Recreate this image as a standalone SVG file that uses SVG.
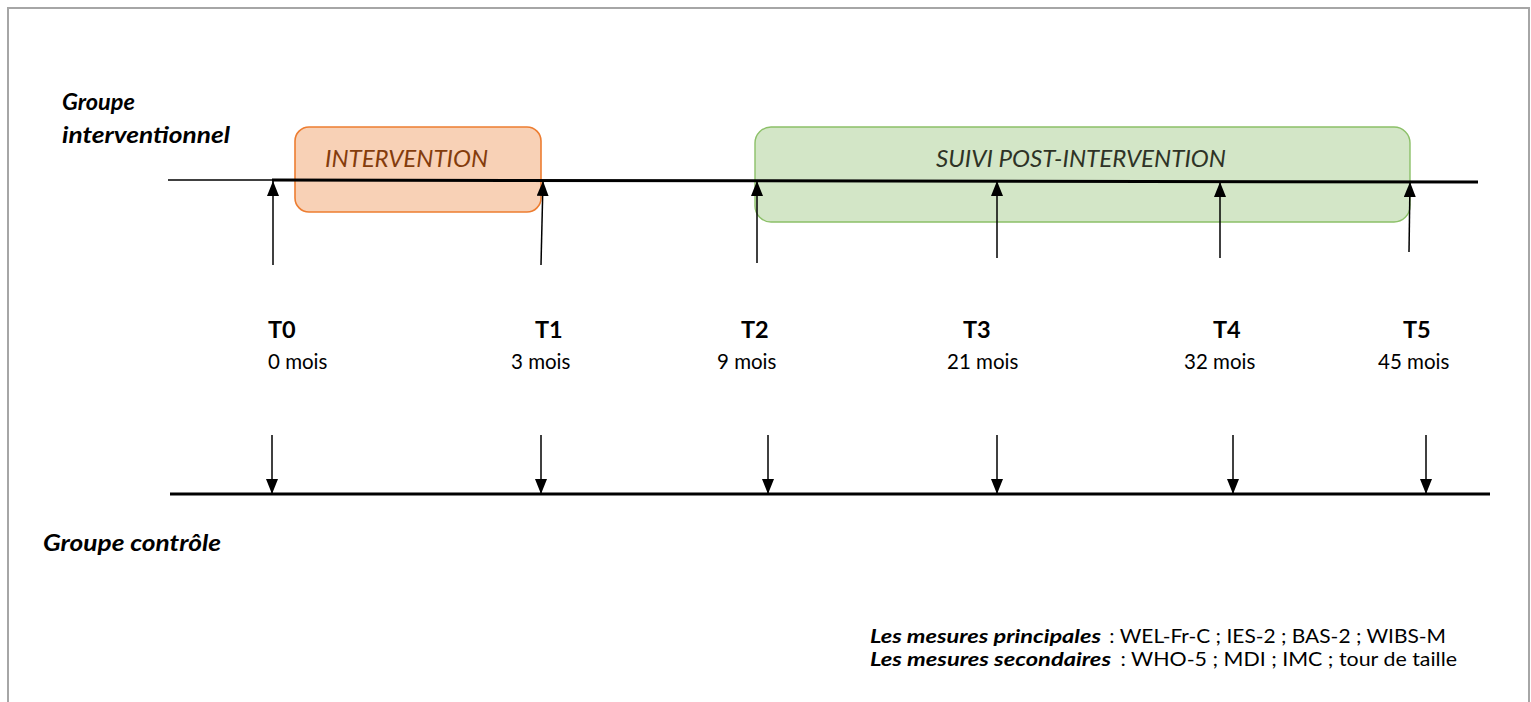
<svg xmlns="http://www.w3.org/2000/svg" width="1531" height="702" viewBox="0 0 1531 702">
<style>
  .f { font-family: Lato, "Noto Sans", "Liberation Sans", sans-serif; }
  .grp { font-size: 23.5px; font-weight: bold; font-style: italic; fill: #000; }
  .box-t { font-size: 23.5px; font-style: italic; }
  .tl { font-size: 23.5px; font-weight: bold; fill: #000; }
  .mo { font-size: 20.5px; fill: #000; }
  .leg-b { font-size: 19px; font-weight: bold; font-style: italic; fill: #000; }
  .leg { font-size: 19px; fill: #000; }
  .arr { stroke: #000; stroke-width: 1.5; fill: none; marker-end: url(#ah); }
  .axis { stroke: #000; fill: none; }
</style>
<defs>
  <marker id="ah" viewBox="0 0 15 12" refX="15" refY="6" markerWidth="15" markerHeight="12" markerUnits="userSpaceOnUse" orient="auto">
    <path d="M0,0 L15,6 L0,12 Z" fill="#000"/>
  </marker>
</defs>
<rect x="0" y="0" width="1531" height="702" fill="#fff"/>
<rect x="8" y="8" width="1521" height="740" fill="none" stroke="#a6a6a6" stroke-width="2"/>

<g id="node-intervention">
  <rect x="295" y="127" width="246" height="85" rx="14" ry="14" fill="#f8d1b6" stroke="#ed7d31" stroke-width="1.6"/>
  <text class="f box-t" x="325" y="167" fill="#843c0c" textLength="163" lengthAdjust="spacingAndGlyphs">INTERVENTION</text>
</g>
<g id="node-suivi">
  <rect x="755" y="127" width="655" height="95" rx="16" ry="16" fill="#d3e6c7" stroke="#8cc068" stroke-width="1.4"/>
  <text class="f box-t" x="936" y="167" fill="#2e3326" textLength="290" lengthAdjust="spacingAndGlyphs">SUIVI POST-INTERVENTION</text>
</g>

<g id="connectors">
  <line class="axis" x1="168" y1="180" x2="272" y2="180" stroke-width="1.5"/>
  <line class="axis" x1="272" y1="180" x2="1478" y2="182" stroke-width="3"/>
  <line class="axis" x1="170" y1="494" x2="1490" y2="494" stroke-width="3"/>
  <path class="arr" d="M273,265 L273,181"/>
  <path class="arr" d="M541,265 L543,181"/>
  <path class="arr" d="M757,263 L757,181"/>
  <path class="arr" d="M997,258 L997,181"/>
  <path class="arr" d="M1220,258 L1220,182"/>
  <path class="arr" d="M1409,252 L1410,182"/>
  <path class="arr" d="M272,435 L272,494"/>
  <path class="arr" d="M541,435 L541,494"/>
  <path class="arr" d="M768,435 L768,494"/>
  <path class="arr" d="M997,435 L997,494"/>
  <path class="arr" d="M1233,435 L1233,494"/>
  <path class="arr" d="M1426,435 L1426,494"/>
</g>

<g id="label-groupe-interventionnel">
  <text class="f grp" x="62" y="110">Groupe</text>
  <text class="f grp" x="62" y="143" textLength="168" lengthAdjust="spacingAndGlyphs">interventionnel</text>
</g>
<g id="label-groupe-controle">
  <text class="f grp" x="43" y="551" textLength="178" lengthAdjust="spacingAndGlyphs">Groupe contrôle</text>
</g>

<g id="t0"><text class="f tl" x="268" y="338">T0</text><text class="f mo" x="268" y="369">0 mois</text></g>
<g id="t1"><text class="f tl" x="535" y="338">T1</text><text class="f mo" x="511" y="369">3 mois</text></g>
<g id="t2"><text class="f tl" x="741" y="338">T2</text><text class="f mo" x="717" y="369">9 mois</text></g>
<g id="t3"><text class="f tl" x="963" y="338">T3</text><text class="f mo" x="947" y="369">21 mois</text></g>
<g id="t4"><text class="f tl" x="1213" y="338">T4</text><text class="f mo" x="1184" y="369">32 mois</text></g>
<g id="t5"><text class="f tl" x="1403" y="338">T5</text><text class="f mo" x="1378" y="369">45 mois</text></g>

<g id="legend">
  <text class="f" y="643"><tspan class="leg-b" x="870" textLength="231" lengthAdjust="spacingAndGlyphs">Les mesures principales</tspan><tspan class="leg" x="1104" textLength="342" lengthAdjust="spacingAndGlyphs"> : WEL-Fr-C ; IES-2 ; BAS-2 ; WIBS-M</tspan></text>
  <text class="f" y="666"><tspan class="leg-b" x="870" textLength="241" lengthAdjust="spacingAndGlyphs">Les mesures secondaires</tspan><tspan class="leg" x="1115" textLength="342" lengthAdjust="spacingAndGlyphs"> : WHO-5 ; MDI ; IMC ; tour de taille</tspan></text>
</g>
</svg>
